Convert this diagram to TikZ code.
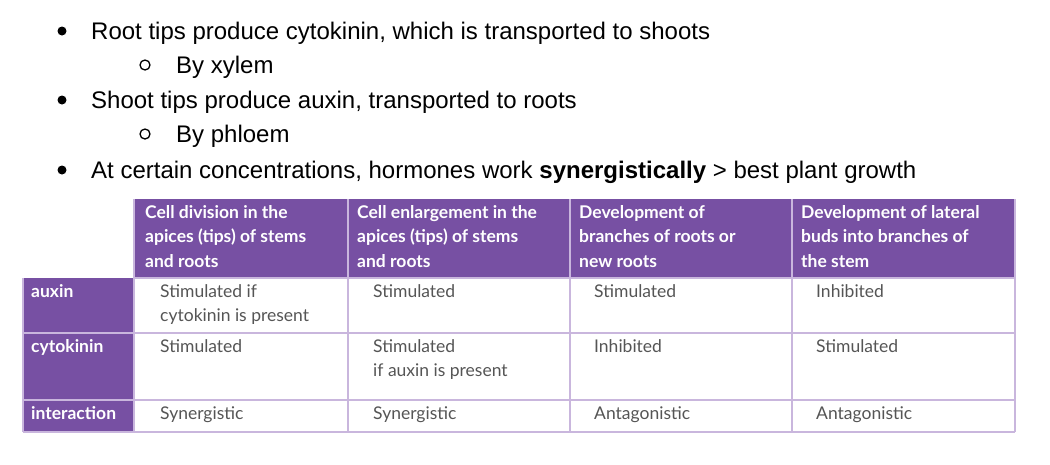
\documentclass[tikz,border=0pt]{standalone}
\usepackage{fontspec}
\setmainfont{Liberation Sans}
\newfontfamily\tabfont{Lato}
\definecolor{pur}{HTML}{7750A3}
\definecolor{grid}{HTML}{C9B6DD}
\definecolor{bodytxt}{HTML}{555555}
\begin{document}
\begin{tikzpicture}[x=1pt,y=-1pt,
  bul/.style={anchor=base west,inner sep=0,font=\fontsize{24}{24}\selectfont},
  hd/.style={anchor=north west,inner sep=0,align=left,text=white,font=\tabfont\bfseries\fontsize{17.5}{24.5}\selectfont},
  lb/.style={anchor=north west,inner sep=0,text=white,font=\tabfont\bfseries\fontsize{17.5}{24.5}\selectfont},
  bd/.style={anchor=north west,inner sep=0,align=left,text=bodytxt,font=\tabfont\fontsize{17.5}{24.5}\selectfont}]
\useasboundingbox (0,0) rectangle (1050,464);
% bullets
\fill (62,31) circle (4.5);
\draw[line width=1.3] (145,65) circle (5);
\fill (62,100) circle (4.5);
\draw[line width=1.3] (145,134) circle (5);
\fill (62,170) circle (4.5);
\node[bul] (t1) at (91,39) {Root tips produce cytokinin, which is transported to shoots};
\node[bul] (t2) at (176,73) {By xylem};
\node[bul] (t3) at (91,108) {Shoot tips produce auxin, transported to roots};
\node[bul] (t4) at (176,142) {By phloem};
\node[bul] (t5) at (91,178) {At certain concentrations, hormones work \textbf{synergistically} {>} best plant growth};
% table fills
\fill[pur] (134,199) rectangle (1015,278);
\fill[pur] (23,278) rectangle (134,432);
% grid
\begin{scope}[draw=grid,line width=1.2]
\draw (134,278) -- (1015,278);
\draw (23,333) -- (1015,333);
\draw (23,400) -- (1015,400);
\draw (23,432) -- (1015,432);
\draw (23,278) -- (23,432);
\draw (1015,199) -- (1015,432);
\foreach \x in {348,570,792} \draw (\x,199) -- (\x,432);
\draw (134,199) -- (134,432);
\end{scope}
% headers
\node[hd] (h1) at (145,205) {Cell division in the\\apices (tips) of stems\\and roots};
\node[hd] (h2) at (357,205) {Cell enlargement in the\\apices (tips) of stems\\and roots};
\node[hd] (h3) at (579,205) {Development of\\branches of roots or\\new roots};
\node[hd] (h4) at (801,205) {Development of lateral\\buds into branches of\\the stem};
% labels
\node[lb] (l1) at (31,284) {auxin};
\node[lb] (l2) at (31,339) {cytokinin};
\node[lb] (l3) at (31,406) {interaction};
% body
\node[bd] (a1) at (160,284) {Stimulated if\\cytokinin is present};
\node[bd] (a2) at (373,284) {Stimulated};
\node[bd] (a3) at (594,284) {Stimulated};
\node[bd] (a4) at (816,284) {Inhibited};
\node[bd] (c1) at (160,339) {Stimulated};
\node[bd] (c2) at (373,339) {Stimulated\\if auxin is present};
\node[bd] (c3) at (594,339) {Inhibited};
\node[bd] (c4) at (816,339) {Stimulated};
\node[bd] (i1) at (160,406) {Synergistic};
\node[bd] (i2) at (373,406) {Synergistic};
\node[bd] (i3) at (594,406) {Antagonistic};
\node[bd] (i4) at (816,406) {Antagonistic};
\end{tikzpicture}
\end{document}
